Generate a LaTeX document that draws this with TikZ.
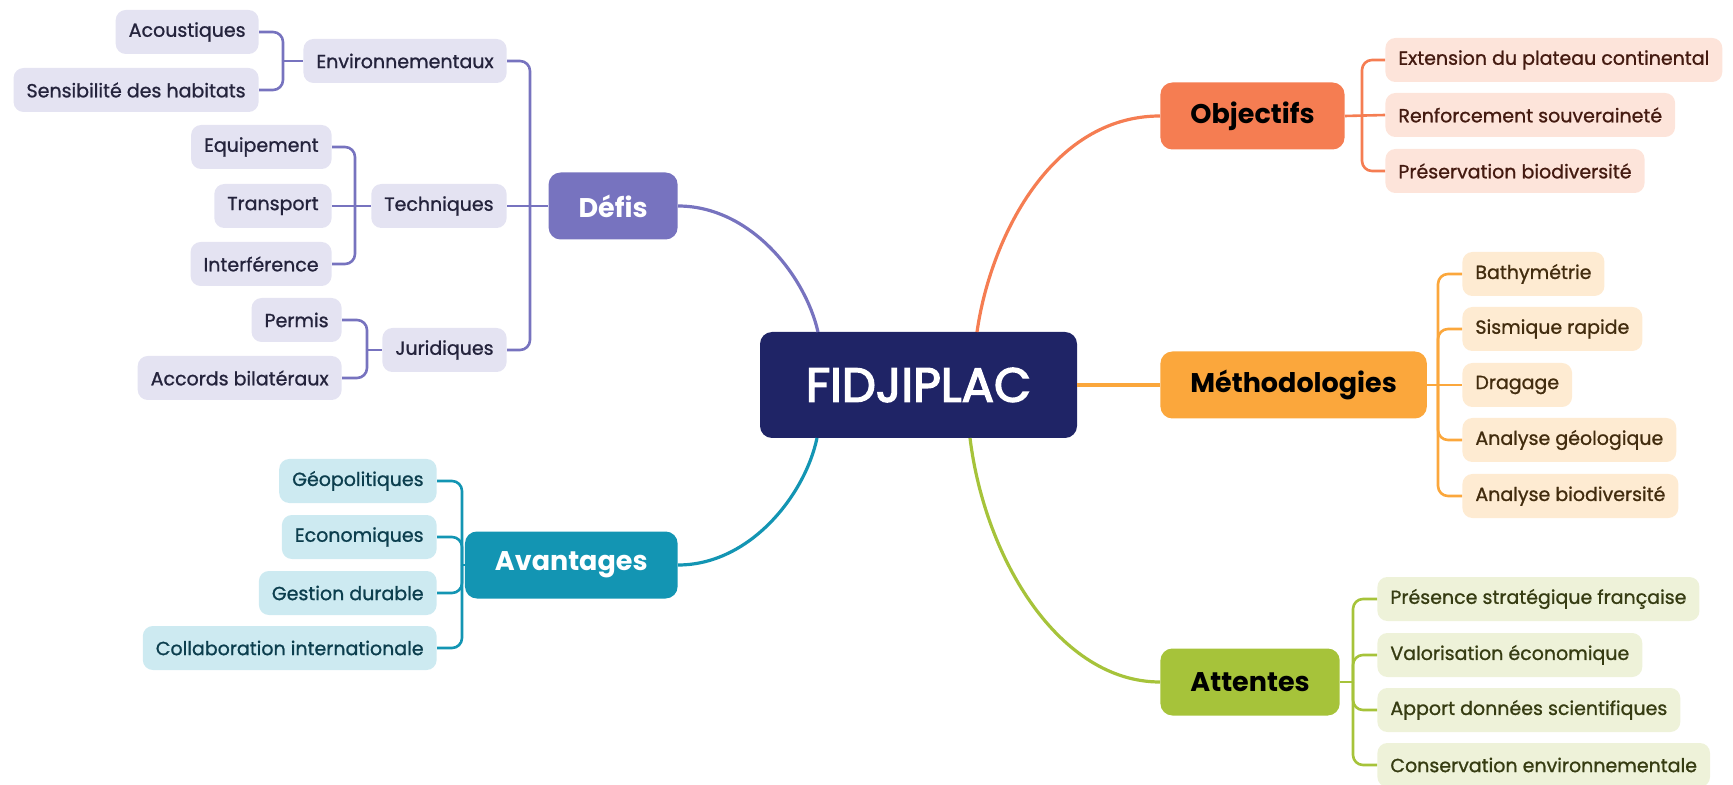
\documentclass[tikz,border=0pt]{standalone}
\usepackage{fontspec}
\setmainfont{Poppins}
\newfontfamily\medfont{Poppins}[FakeBold=3]
\newfontfamily\leaffont{Poppins}[FakeBold=1]
\definecolor{navy}{RGB}{31,36,102}
\definecolor{defisC}{RGB}{119,115,191}
\definecolor{defisL}{RGB}{228,227,242}
\definecolor{defisT}{RGB}{36,35,60}
\definecolor{avantC}{RGB}{19,149,179}
\definecolor{avantL}{RGB}{205,234,241}
\definecolor{avantT}{RGB}{12,62,78}
\definecolor{objC}{RGB}{245,125,82}
\definecolor{objL}{RGB}{253,228,218}
\definecolor{objT}{RGB}{68,26,16}
\definecolor{methC}{RGB}{251,167,60}
\definecolor{methL}{RGB}{254,235,210}
\definecolor{methT}{RGB}{66,44,14}
\definecolor{attC}{RGB}{166,195,58}
\definecolor{attL}{RGB}{238,242,217}
\definecolor{attT}{RGB}{54,60,18}

\begin{document}
\begin{tikzpicture}[x=0.5pt,y=-0.5pt,
    leaf/.style={rounded corners=5pt,inner xsep=6.5pt,inner ysep=0pt,minimum height=22pt,
        font=\fontsize{9.5}{11}\selectfont\leaffont},
    topic/.style={rounded corners=6pt,inner xsep=15pt,inner ysep=0pt,minimum height=33.5pt,
        font=\fontsize{13.5}{16}\selectfont\bfseries},
    branch/.style={line width=1.6pt},
    twig/.style={line width=1.3pt,rounded corners=5pt}]
    \useasboundingbox (0,0) rectangle (1733,785);

    \node[fill=navy,text=white,rounded corners=6pt,minimum width=158.5pt,minimum height=53pt,
        font=\fontsize{24}{30}\selectfont\medfont] (fidji) at (918.5,385) {FIDJIPLAC};

    \node[topic,fill=defisC,text=white,anchor=east] (defis) at (678,206) {Défis};
    \node[topic,fill=avantC,text=white,anchor=east] (avant) at (678,565) {Avantages};
    \node[topic,fill=objC,text=black,anchor=west] (obj) at (1160,116) {Objectifs};
    \node[topic,fill=methC,text=black,anchor=west] (meth) at (1160,385) {Méthodologies};
    \node[topic,fill=attC,text=black,anchor=west] (att) at (1160,682) {Attentes};

    \node[leaf,fill=defisL,text=defisT,anchor=east] (envi) at (507,61) {Environnementaux};
    \node[leaf,fill=defisL,text=defisT,anchor=east] (tech) at (507,206) {Techniques};
    \node[leaf,fill=defisL,text=defisT,anchor=east] (jur) at (507,350) {Juridiques};

    \node[leaf,fill=defisL,text=defisT,anchor=east] (acou) at (259,32) {Acoustiques};
    \node[leaf,fill=defisL,text=defisT,anchor=east] (sens) at (259,90) {Sensibilité des habitats};
    \node[leaf,fill=defisL,text=defisT,anchor=east] (equip) at (332,147) {Equipement};
    \node[leaf,fill=defisL,text=defisT,anchor=east] (transp) at (332,206) {Transport};
    \node[leaf,fill=defisL,text=defisT,anchor=east] (interf) at (332,264) {Interférence};
    \node[leaf,fill=defisL,text=defisT,anchor=east] (permis) at (342,320) {Permis};
    \node[leaf,fill=defisL,text=defisT,anchor=east] (accords) at (342,378) {Accords bilatéraux};

    \node[leaf,fill=avantL,text=avantT,anchor=east] (geo) at (437,481) {Géopolitiques};
    \node[leaf,fill=avantL,text=avantT,anchor=east] (eco) at (437,537) {Economiques};
    \node[leaf,fill=avantL,text=avantT,anchor=east] (gest) at (437,593) {Gestion durable};
    \node[leaf,fill=avantL,text=avantT,anchor=east] (collab) at (437,648) {Collaboration internationale};

    \node[leaf,fill=objL,text=objT,anchor=west] (ext) at (1385,60) {Extension du plateau continental};
    \node[leaf,fill=objL,text=objT,anchor=west] (renf) at (1385,115) {Renforcement souveraineté};
    \node[leaf,fill=objL,text=objT,anchor=west] (pres) at (1385,171) {Préservation biodiversité};

    \node[leaf,fill=methL,text=methT,anchor=west] (bathy) at (1462,274) {Bathymétrie};
    \node[leaf,fill=methL,text=methT,anchor=west] (sism) at (1462,329) {Sismique rapide};
    \node[leaf,fill=methL,text=methT,anchor=west] (drag) at (1462,385) {Dragage};
    \node[leaf,fill=methL,text=methT,anchor=west] (geol) at (1462,440) {Analyse géologique};
    \node[leaf,fill=methL,text=methT,anchor=west] (biod) at (1462,496) {Analyse biodiversité};

    \node[leaf,fill=attL,text=attT,anchor=west] (presence) at (1377,599) {Présence stratégique française};
    \node[leaf,fill=attL,text=attT,anchor=west] (valo) at (1377,655) {Valorisation économique};
    \node[leaf,fill=attL,text=attT,anchor=west] (apport) at (1377,710) {Apport données scientifiques};
    \node[leaf,fill=attL,text=attT,anchor=west] (conserv) at (1377,765) {Conservation environnementale};

    \coordinate (fidji-nw) at (818,332);
    \coordinate (fidji-ne) at (977,332);
    \coordinate (fidji-sw) at (817,438);
    \coordinate (fidji-se) at (970,438);
    \coordinate (defis-j) at (530,206);
    \coordinate (envi-j) at (283,61);
    \coordinate (tech-j) at (355,206);
    \coordinate (jur-j) at (367,350);
    \coordinate (avant-j) at (462,565);
    \coordinate (obj-j) at (1362,116);
    \coordinate (meth-j) at (1438,385);
    \coordinate (att-j) at (1353,682);

    \draw[branch,defisC] (defis.east) .. controls (750,206) and (805,275) .. (fidji-nw);
    \draw[branch,objC] (fidji-ne) .. controls (990,240) and (1050,116) .. (obj.west);
    \draw[branch,methC] (fidji.east) -- (meth.west);
    \draw[branch,avantC] (fidji-sw) .. controls (805,495) and (750,565) .. (avant.east);
    \draw[branch,attC] (fidji-se) .. controls (985,560) and (1060,682) .. (att.west);

    \draw[twig,defisC] (defis.west) -- (defis-j) -- (tech.east);
    \draw[twig,defisC] (defis-j) |- (envi.east);
    \draw[twig,defisC] (defis-j) |- (jur.east);
    \draw[twig,defisC] (envi.west) -- (envi-j);
    \draw[twig,defisC] (envi-j) |- (acou.east);
    \draw[twig,defisC] (envi-j) |- (sens.east);
    \draw[twig,defisC] (tech.west) -- (transp.east);
    \draw[twig,defisC] (tech-j) |- (equip.east);
    \draw[twig,defisC] (tech-j) |- (interf.east);
    \draw[twig,defisC] (jur.west) -- (jur-j);
    \draw[twig,defisC] (jur-j) |- (permis.east);
    \draw[twig,defisC] (jur-j) |- (accords.east);

    \draw[twig,avantC] (avant.west) -- (avant-j);
    \draw[twig,avantC] (avant-j) |- (geo.east);
    \draw[twig,avantC] (avant-j) |- (eco.east);
    \draw[twig,avantC] (avant-j) |- (gest.east);
    \draw[twig,avantC] (avant-j) |- (collab.east);

    \draw[twig,objC] (obj.east) -- (renf.west);
    \draw[twig,objC] (obj-j) |- (ext.west);
    \draw[twig,objC] (obj-j) |- (pres.west);

    \draw[twig,methC] (meth.east) -- (drag.west);
    \draw[twig,methC] (meth-j) |- (bathy.west);
    \draw[twig,methC] (meth-j) |- (sism.west);
    \draw[twig,methC] (meth-j) |- (geol.west);
    \draw[twig,methC] (meth-j) |- (biod.west);

    \draw[twig,attC] (att.east) -- (att-j);
    \draw[twig,attC] (att-j) |- (presence.west);
    \draw[twig,attC] (att-j) |- (valo.west);
    \draw[twig,attC] (att-j) |- (apport.west);
    \draw[twig,attC] (att-j) |- (conserv.west);
\end{tikzpicture}
\end{document}
